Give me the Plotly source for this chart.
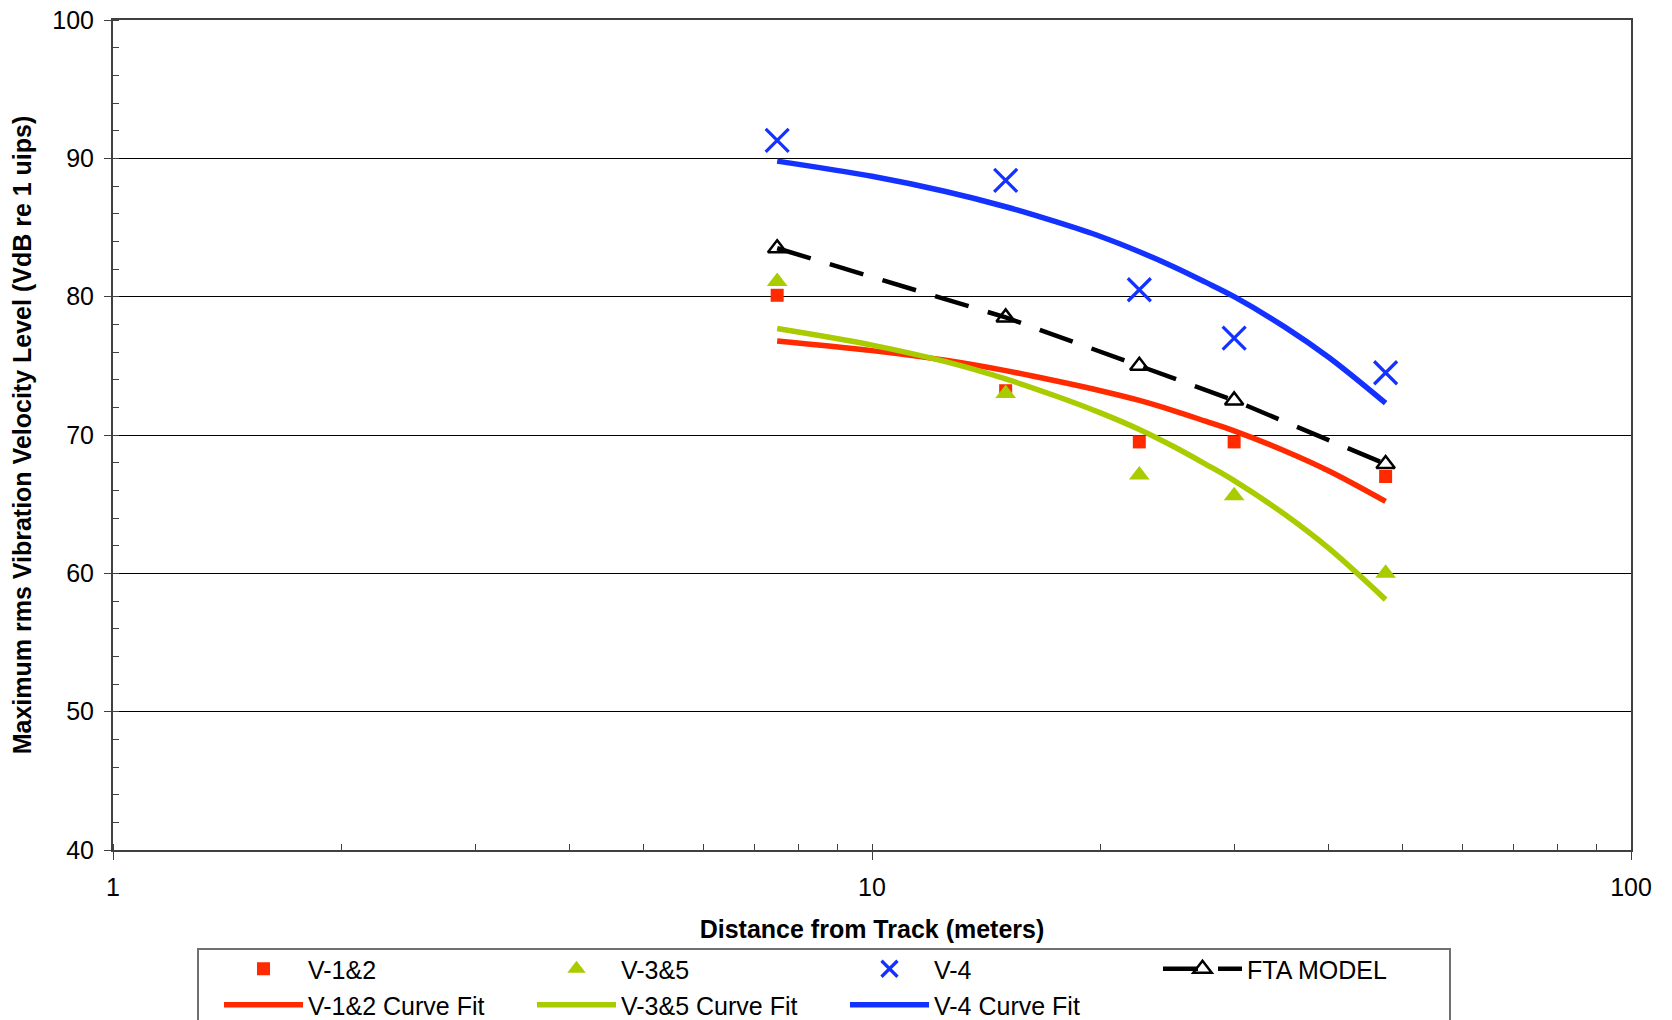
import plotly.graph_objects as go

# ---- data ----
dist_m = [7.5, 15, 22.5, 30, 47.5]
v12 = [80.1, 73.2, 69.5, 69.5, 67.0]
v35 = [81.1, 73.0, 67.1, 65.6, 60.0]
v4 = [91.3, 88.4, 80.5, 77.0, 74.5]
fta = [83.5, 78.5, 75.0, 72.5, 67.9]

fit_x = [7.5, 10, 12.5, 15, 17.5, 20, 22.5, 25, 27.5, 30, 35, 40, 47.5]
fit_v12 = [76.8, 76.1, 75.4, 74.65, 73.9, 73.2, 72.5, 71.75, 71.0, 70.3, 68.85, 67.4, 65.2]
fit_v35 = [77.7, 76.5, 75.3, 74.05, 72.8, 71.6, 70.4, 69.15, 67.9, 66.7, 64.25, 61.8, 58.1]
fit_v4 = [89.8, 88.7, 87.6, 86.5, 85.4, 84.35, 83.25, 82.15, 81.05, 80.0, 77.8, 75.6, 72.3]

x_title = "Distance from Track (meters)"
y_title = "Maximum rms Vibration Velocity Level (VdB re 1 uips)"

RED = "#FF2A00"
GREEN = "#A8CC00"
BLUE = "#1432FF"
FONT = "Liberation Sans, Arial, sans-serif"

fig = go.Figure()

# curve fits (row 2 legend)
for name, ys, col in [("V-1&2 Curve Fit", fit_v12, RED),
                      ("V-3&5 Curve Fit", fit_v35, GREEN),
                      ("V-4 Curve Fit", fit_v4, BLUE)]:
    fig.add_trace(go.Scatter(x=fit_x, y=ys, mode="lines", name=name,
                             line=dict(color=col, width=5.5, shape="spline"),
                             legend="legend2"))

# measured points (row 1 legend)
fig.add_trace(go.Scatter(x=dist_m, y=v12, mode="markers", name="V-1&2",
                         marker=dict(symbol="square", size=13, color=RED),
                         legend="legend"))
fig.add_trace(go.Scatter(x=dist_m, y=v35, mode="markers", name="V-3&5",
                         marker=dict(symbol="triangle-up", size=18, color=GREEN),
                         legend="legend"))
fig.add_trace(go.Scatter(x=dist_m, y=v4, mode="markers", name="V-4",
                         marker=dict(symbol="x-thin-open", size=23,
                                     line=dict(color=BLUE, width=3.2), color=BLUE),
                         legend="legend"))
fig.add_trace(go.Scatter(x=dist_m, y=fta, mode="lines+markers", name="FTA MODEL",
                         line=dict(color="black", width=4.5, dash="35px,20px"),
                         marker=dict(symbol="triangle-up-open", size=16,
                                     line=dict(color="black", width=2.5), color="black"),
                         legend="legend"))

W, H = 1672, 1020
L, R, T, B = 113, 41, 20, 170
pw, ph = W - L - R, H - T - B


def px_x(px):
    return (px - L) / pw


def px_y(py):
    return (H - B - py) / ph


legend_common = dict(
    orientation="h", xanchor="left", yanchor="top",
    font=dict(family=FONT, size=25, color="black"),
    bgcolor="rgba(0,0,0,0)", borderwidth=0,
    itemwidth=79, entrywidth=219, entrywidthmode="pixels",
    itemsizing="trace",
)

fig.update_layout(
    width=W, height=H,
    margin=dict(l=L, r=R, t=T, b=B, autoexpand=False),
    paper_bgcolor="white", plot_bgcolor="white",
    font=dict(family=FONT, color="black"),
    showlegend=True,
    legend=dict(x=px_x(219), y=px_y(946), **legend_common),
    legend2=dict(x=px_x(219), y=px_y(982), **legend_common),
    xaxis=dict(
        type="log", range=[0, 2], dtick=1,
        showgrid=False, zeroline=False,
        showline=True, linecolor="#404040", linewidth=2, mirror=True,
        ticks="outside", ticklen=8, tickcolor="#404040", tickwidth=1,
        tickfont=dict(family=FONT, size=25, color="black"),
        ticklabelstandoff=6,
        minor=dict(ticks="inside", ticklen=6, tickcolor="#404040", tickwidth=1,
                   dtick="D1", showgrid=False),
        title=dict(text="<b>" + x_title + "</b>",
                   font=dict(family=FONT, size=25, color="black"), standoff=20),
    ),
    yaxis=dict(
        range=[40, 100], dtick=10,
        showgrid=True, gridcolor="black", gridwidth=1, zeroline=False,
        showline=True, linecolor="#404040", linewidth=2, mirror=True,
        ticks="outside", ticklen=7, tickcolor="#404040", tickwidth=1,
        tickfont=dict(family=FONT, size=25, color="black"),
        ticklabelstandoff=5,
        minor=dict(ticks="inside", ticklen=6, tickcolor="#404040", tickwidth=1,
                   dtick=2, showgrid=False),
        title=dict(text="<b>" + y_title + "</b>",
                   font=dict(family=FONT, size=25, color="black"), standoff=14),
    ),
    shapes=[dict(type="rect", xref="paper", yref="paper",
                 x0=px_x(198), x1=px_x(1450), y0=px_y(949), y1=px_y(1040),
                 line=dict(color="#707070", width=2), fillcolor="rgba(0,0,0,0)",
                 layer="above")],
)

fig.write_html("out.html", config={"displayModeBar": False},
               post_script="document.body.style.margin='0px';")
